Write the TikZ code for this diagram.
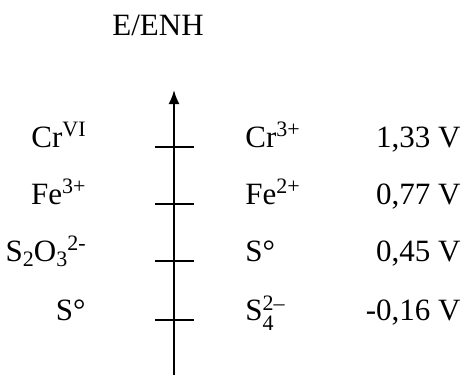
\documentclass[tikz,border=0pt]{standalone}
\usepackage{fontspec}
\setmainfont{Liberation Serif}
\usetikzlibrary{arrows.meta}
\newcommand{\ionsmall}{\fontsize{11}{12}\selectfont}
\newcommand{\ionsup}[1]{\raisebox{0.75ex}{\ionsmall #1}}
\newcommand{\ionsub}[1]{\raisebox{-0.4ex}{\ionsmall #1}}
\begin{document}
\begin{tikzpicture}[x=0.5pt, y=-0.5pt, font=\fontsize{15.5}{18}\selectfont,
	tick/.style={line width=1pt},
	redox/.style={inner sep=0pt}]

	\useasboundingbox (0,0) rectangle (469,375);
	\node[redox] (title) at (158,25) {E/ENH};
	\coordinate (bottom) at (174,375);
	\coordinate (top) at (174,90);
	\draw[line width=1pt, -{Latex[length=7pt,width=5.5pt]}] (bottom) -- (top);

	\foreach \y/\ox/\red/\pot/\n in {147/Cr\ionsup{VI}/Cr\ionsup{3+}/{1,33 V}/1,
		204/Fe\ionsup{3+}/Fe\ionsup{2+}/{0,77 V}/2,
		261/S\ionsub{2}O\ionsub{3}\ionsup{2-}/S°/{0,45 V}/3,
		320/S°/S\rlap{\raisebox{-0.75ex}{\ionsmall 4}}\raisebox{0.65ex}{\ionsmall 2–}/{-0,16 V}/4} {
		\coordinate (t\n) at (174,\y);
		\draw[tick] (155,\y) -- (194,\y);
		\node[redox, anchor=base east] (ox\n) at (86,\y) {\ox};
		\node[redox, anchor=base west] (red\n) at (245,\y) {\red};
		\node[redox, anchor=base east] (pot\n) at (461,\y) {\pot};
	}

\end{tikzpicture}
\end{document}
